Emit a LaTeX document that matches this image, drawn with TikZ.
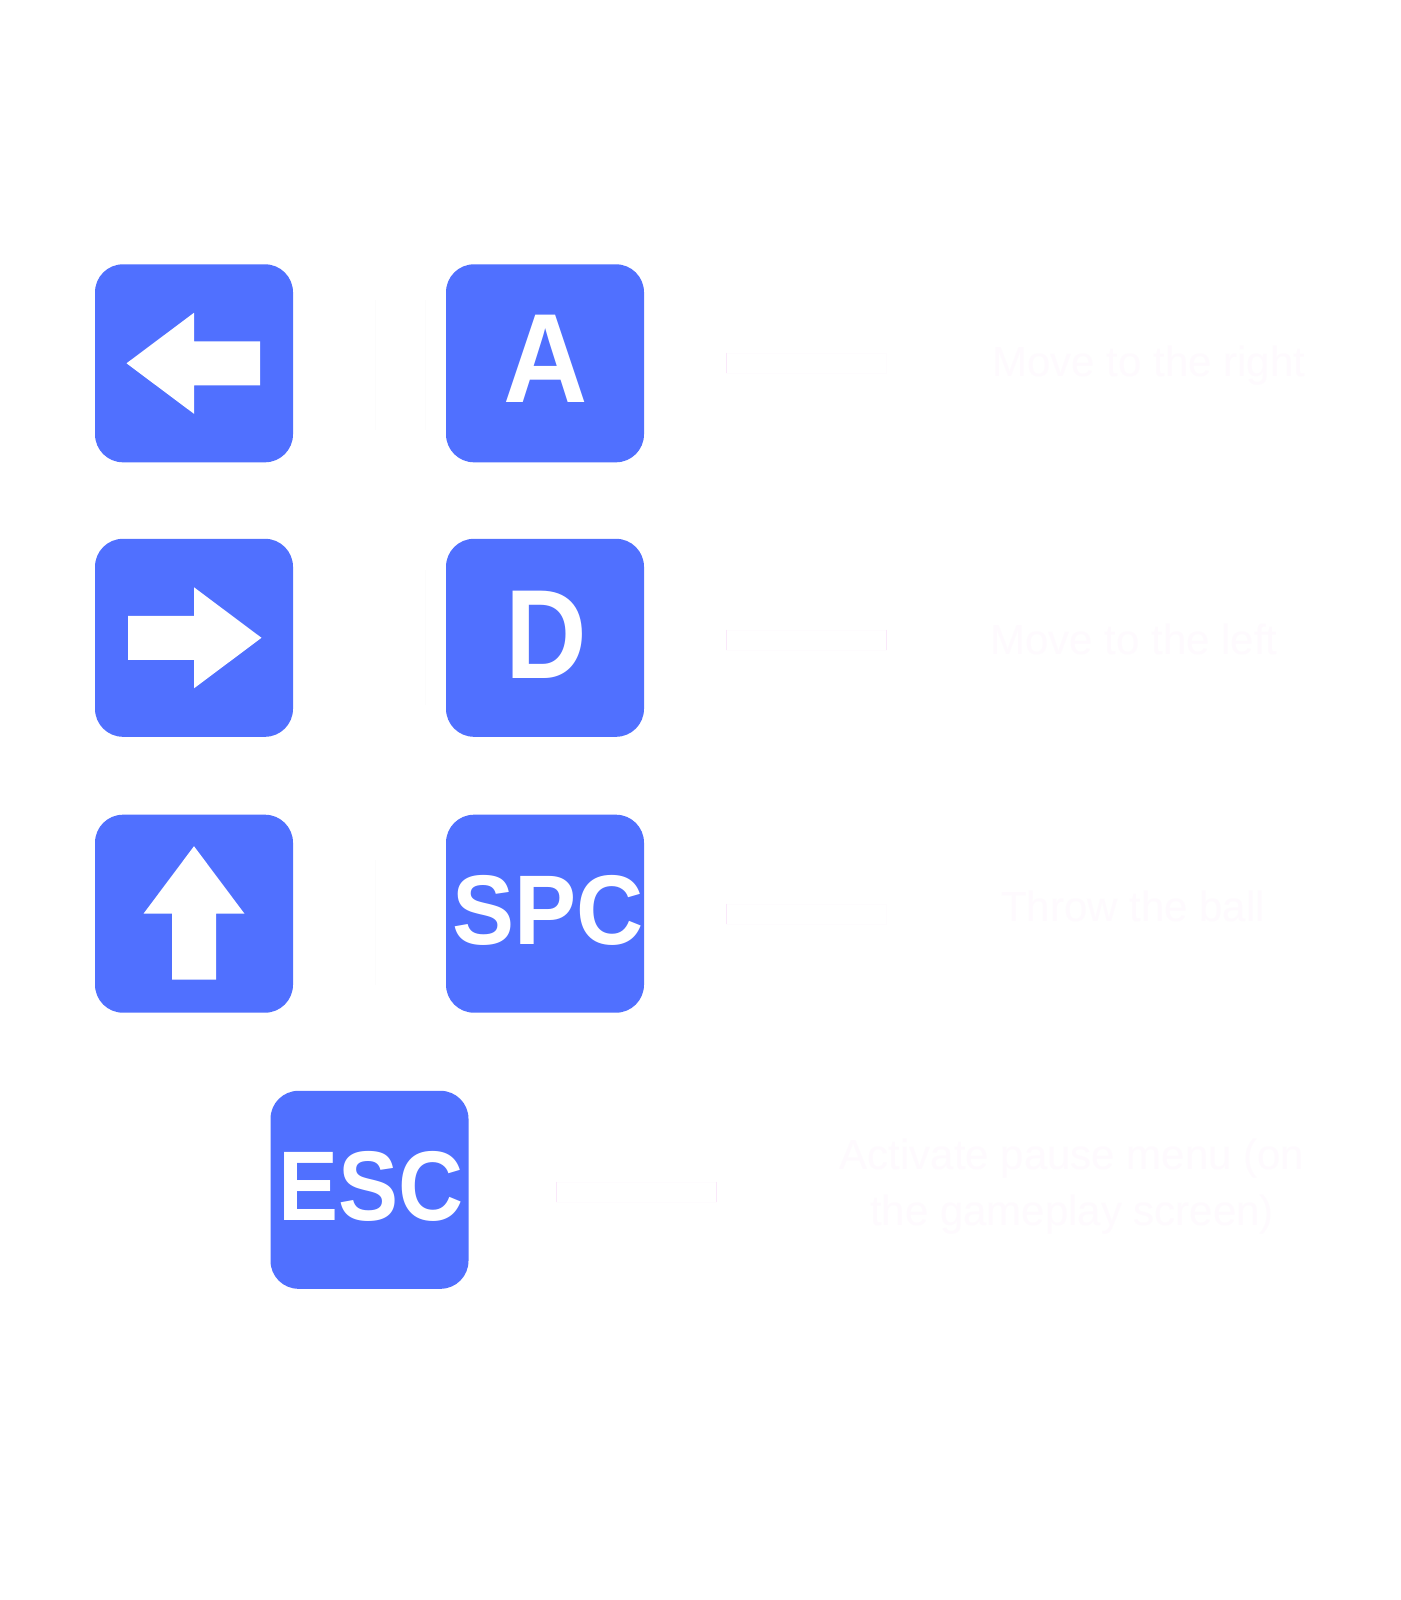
\documentclass[tikz,border=0pt]{standalone}
\usepackage{fontspec}
\setmainfont{Liberation Sans}
\definecolor{keyblue}{HTML}{5070FF}
\definecolor{ghost}{HTML}{FEFAFE}
\definecolor{ghostedge}{HTML}{FEFCFE}
\definecolor{ghostpink}{HTML}{FAE8FA}
\definecolor{ghostline}{HTML}{FCFCFC}
\tikzset{
  keybox/.style={fill=keyblue,draw=none,rounded corners=28pt,minimum width=198pt,minimum height=198pt,inner sep=0pt,outer sep=0pt},
  keyglyph/.style={text=white,inner sep=0pt,outer sep=0pt,font=\bfseries\fontsize{127}{127}\selectfont},
  keyword/.style={text=white,inner sep=0pt,outer sep=0pt,font=\bfseries\fontsize{99}{99}\selectfont},
  arrowglyph/.style={fill=white,line join=round},
  bar/.style={fill=white,draw=ghostedge,line width=0.6pt,minimum width=160pt,minimum height=20pt,inner sep=0pt},
  baredge/.style={draw=ghostpink,line width=0.8pt},
  caption/.style={text=ghost,inner sep=0pt,align=center,font=\fontsize{42}{56}\selectfont},
  divider/.style={draw=ghostline,line width=0.7pt}
}
\newcommand{\ArrowShape}{(-67.5,0) -- (0,-50.5) -- (0,-22) -- (66,-22) -- (66,22) -- (0,22) -- (0,50.5) -- cycle}
\begin{document}
\begin{tikzpicture}[x=1pt,y=-1pt]
\useasboundingbox (0,0) rectangle (1400,1600);
\fill[white] (0,0) rectangle (1400,1600);

% key boxes
\node[keybox] (kleft)  at (194,363.3) {};
\node[keybox] (ka)     at (545,363.3) {};
\node[keybox] (kright) at (194,637.8) {};
\node[keybox] (kd)     at (545,637.8) {};
\node[keybox] (kup)    at (194,913.7) {};
\node[keybox] (kspc)   at (545,913.7) {};
\node[keybox] (kesc)   at (369.5,1189.8) {};

% arrow glyphs
\fill[arrowglyph,shift={(kleft.center)}] \ArrowShape;
\fill[arrowglyph,shift={(kright.center)},rotate=180] \ArrowShape;
\fill[arrowglyph,shift={(kup.center)},rotate=-90] \ArrowShape;

% letter glyphs
\node[keyglyph] (la) at (545.4,359.2) {\scalebox{0.92}[1]{A}};
\node[keyglyph] (ld) at (546.4,635.2) {\scalebox{0.89}[1]{D}};
\node[keyword] (lspc) at (548,910) {\scalebox{0.94}[1]{SPC}};
\node[keyword] (lesc) at (371,1186) {\scalebox{0.91}[1]{ESC}};

% faint dividers between the key columns
\coordinate (d1a) at (375,300); \coordinate (d1b) at (375,430);
\coordinate (d2a) at (425.5,300); \coordinate (d2b) at (425.5,430);
\coordinate (d3a) at (425.5,570); \coordinate (d3b) at (425.5,705);
\coordinate (d4a) at (375,860); \coordinate (d4b) at (375,985);
\draw[divider] (d1a) -- (d1b);
\draw[divider] (d2a) -- (d2b);
\draw[divider] (d3a) -- (d3b);
\draw[divider] (d4a) -- (d4b);

% faint bars
\node[bar] (b1) at (806.5,363) {};
\node[bar] (b2) at (806.5,640) {};
\node[bar] (b3) at (806.5,914) {};
\node[bar] (b4) at (636.5,1192) {};
\draw[baredge] (b1.north west) -- (b1.south west);
\draw[baredge] (b2.north west) -- (b2.south west);
\draw[baredge] (b2.north east) -- (b2.south east);
\draw[baredge] (b3.north west) -- (b3.south west);
\draw[baredge] (b4.north west) -- (b4.south west);
\draw[baredge] (b4.north east) -- (b4.south east);

% captions
\node[caption] (t1) at (1149,366) {Move to the right};
\node[caption] (t2) at (1134,639) {Move to the left};
\node[caption] (t3) at (1133,906) {Throw the ball};
\node[caption] (t4) at (1072,1187) {Activate pause menu (on\\the gameplay screen)};
\end{tikzpicture}
\end{document}
